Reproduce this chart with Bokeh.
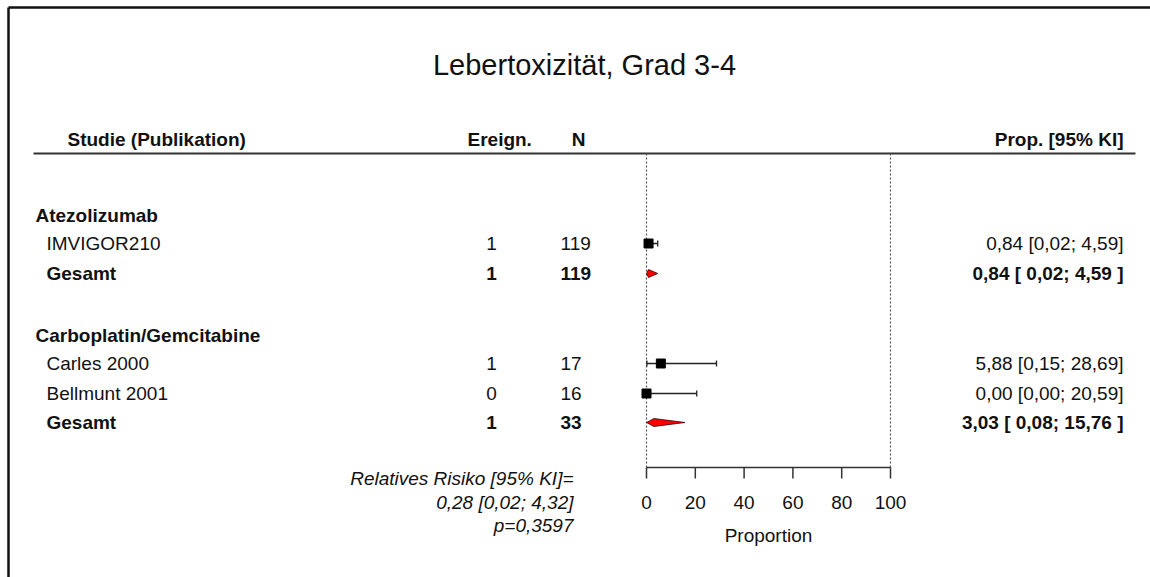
from bokeh.plotting import figure
from bokeh.models import Range1d, ColumnDataSource
from bokeh.core.properties import value
from bokeh.embed import file_html
from bokeh.resources import INLINE

# ---------------- data ----------------
title = "Lebertoxizität, Grad 3-4"
groups = ["Atezolizumab", "Carboplatin/Gemcitabine"]
studies = ["IMVIGOR210", "Carles 2000", "Bellmunt 2001"]
study_group = [0, 1, 1]
study_events = [1, 1, 0]
study_n = [119, 17, 16]
study_prop = [0.84, 5.88, 0.00]
study_lower = [0.02, 0.15, 0.00]
study_upper = [4.59, 28.69, 20.59]

pooled_label = ["Gesamt", "Gesamt"]
pooled_events = [1, 1]
pooled_n = [119, 33]
pooled_prop = [0.84, 3.03]
pooled_lower = [0.02, 0.08]
pooled_upper = [4.59, 15.76]

ticks = [0, 20, 40, 60, 80, 100]
axis_label = "Proportion"
rr_text = ["Relatives Risiko [95% KI]=", "0,28 [0,02; 4,32]", "p=0,3597"]
headers = ["Studie (Publikation)", "Ereign.", "N", "Prop. [95% KI]"]

# ---------------- layout (pixels from top) ----------------
W, H = 1150, 577
X0, X100 = 646, 890
K = (X100 - X0) / 100.0
group_y = [215, 335]
study_y = [243, 363, 393]
pooled_y = [273, 422]
FONT = "Liberation Sans"
FS = "19px"

p = figure(width=W, height=H, x_range=Range1d(-X0 / K, (W - X0) / K),
           y_range=Range1d(H, 0), x_axis_type=None, y_axis_type=None,
           min_border=0, toolbar_location=None, output_backend="svg")
p.extra_x_ranges = {"px": Range1d(0, W)}
p.outline_line_color = None
p.grid.visible = False
p.background_fill_color = "white"
p.border_fill_color = "white"


def txt(x, y, t, align="left", style="normal", size=FS, color="#111111"):
    p.text(x=x, y=y, text=t, x_range_name="px", text_align=align,
           text_baseline="middle", text_font=value(FONT),
           text_font_size=size, text_font_style=style, text_color=color)


# frame (left and top edges)
p.segment(x0=[8, 8], y0=[7, 7], x1=[W + 5, 8], y1=[7, H + 5],
          x_range_name="px", line_color="#111111", line_width=2.5)

# title
txt([584], [64], [title], align="center", size="29px")

# headers
txt([67], [139], [headers[0]], style="bold")
txt([467], [139], [headers[1]], style="bold")
txt([578], [139], [headers[2]], align="center", style="bold")
txt([1123], [139], [headers[3]], align="right", style="bold")
p.segment(x0=[33], y0=[153], x1=[1135], y1=[153], x_range_name="px",
          line_color="#333333", line_width=2)

# group labels
txt([35] * len(groups), group_y, groups, style="bold")

# study rows
fmt = lambda v: f"{v:.2f}".replace(".", ",")
txt([46] * len(studies), study_y, studies)
txt([491] * len(studies), study_y, [str(e) for e in study_events], align="center")
txt([560] * len(studies), study_y, [str(n) for n in study_n])
txt([1123] * len(studies), study_y,
    [f"{fmt(a)} [{fmt(b)}; {fmt(c)}]" for a, b, c in zip(study_prop, study_lower, study_upper)],
    align="right")

# pooled rows
txt([46] * len(pooled_label), pooled_y, pooled_label, style="bold")
txt([491] * len(pooled_label), pooled_y, [str(e) for e in pooled_events], align="center", style="bold")
txt([560] * len(pooled_label), pooled_y, [str(n) for n in pooled_n], style="bold")
txt([1123] * len(pooled_label), pooled_y,
    [f"{fmt(a)} [ {fmt(b)}; {fmt(c)} ]" for a, b, c in zip(pooled_prop, pooled_lower, pooled_upper)],
    align="right", style="bold")

# reference dotted lines at 0 and 100
p.segment(x0=[ticks[0], ticks[-1]], y0=[153, 153], x1=[ticks[0], ticks[-1]], y1=[467, 467],
          line_color="#555555", line_width=1.2, line_dash="2 2")

# confidence intervals with caps
src = ColumnDataSource(dict(y=study_y, lo=study_lower, hi=study_upper, est=study_prop,
                            ytop=[y - 3 for y in study_y], ybot=[y + 3 for y in study_y]))
p.segment(x0="lo", y0="y", x1="hi", y1="y", source=src, line_color="#222222", line_width=1.3)
p.segment(x0="lo", y0="ytop", x1="lo", y1="ybot", source=src, line_color="#222222", line_width=1.3)
p.segment(x0="hi", y0="ytop", x1="hi", y1="ybot", source=src, line_color="#222222", line_width=1.3)
p.scatter(x="est", y="y", source=src, marker="square", size=9,
          fill_color="black", line_color="black")

# pooled diamonds
xs = [[lo, est, hi, est] for lo, est, hi in zip(pooled_lower, pooled_prop, pooled_upper)]
ys = [[y, y - 4, y, y + 4] for y in pooled_y]
p.patches(xs=xs, ys=ys, fill_color="#ff0000", line_color="#330000", line_width=0.8)

# x axis
p.segment(x0=[ticks[0]], y0=[467], x1=[ticks[-1]], y1=[467], line_color="#333333", line_width=1.5)
p.segment(x0=ticks, y0=[467] * len(ticks), x1=ticks, y1=[478] * len(ticks),
          line_color="#333333", line_width=1.5)
p.text(x=ticks, y=[502] * len(ticks), text=[str(t) for t in ticks], text_align="center",
       text_baseline="middle", text_font=value(FONT), text_font_size=FS, text_color="#111111")
p.text(x=[(ticks[0] + ticks[-1]) / 2], y=[535], text=[axis_label], text_align="center",
       text_baseline="middle", text_font=value(FONT), text_font_size=FS, text_color="#111111")

# relative risk note
txt([573] * 3, [478, 502, 525], rr_text, align="right", style="italic")

open("out.html", "w").write(file_html(p, INLINE))
